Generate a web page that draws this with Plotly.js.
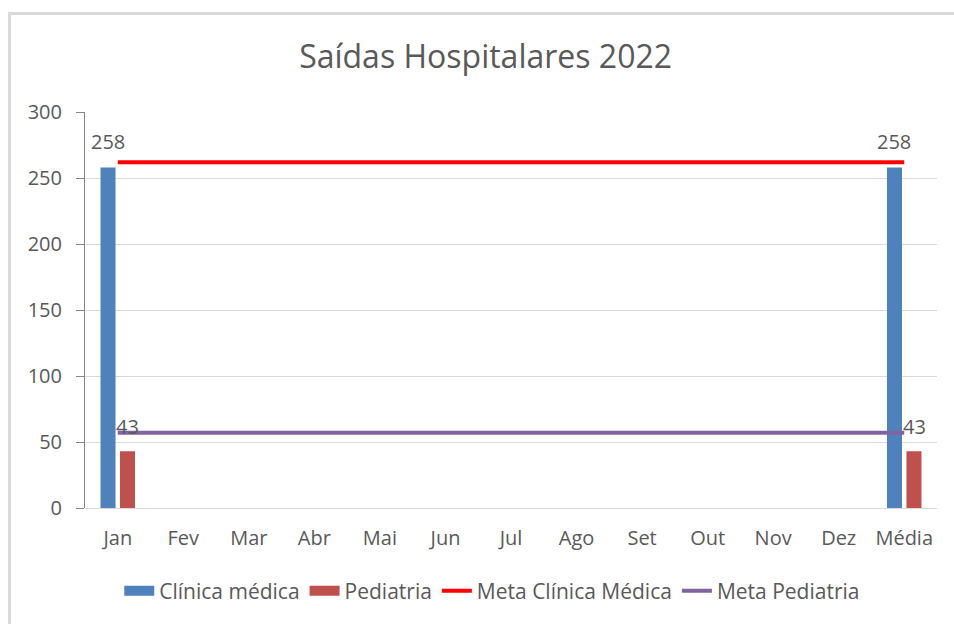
<!DOCTYPE html>
<html>
<head>
<meta charset="utf-8">
<script src="https://cdn.plot.ly/plotly-3.0.1.min.js"></script>
<style>
  html, body { margin: 0; padding: 0; background: #ffffff; }
  #wrap { position: relative; width: 954px; height: 624px; overflow: hidden; }
  #frame { position: absolute; left: 8px; top: 12px; right: -10px; bottom: -10px;
           border-left: 3px solid #d9d9d9; border-top: 3px solid #d9d9d9; pointer-events: none; z-index: 2; }
  #chart { position: absolute; left: 0; top: 0; width: 954px; height: 624px; }
</style>
</head>
<body>
<div id="wrap">
  <div id="chart"></div>
  <div id="frame"></div>
</div>
<script>
const months = ["Jan", "Fev", "Mar", "Abr", "Mai", "Jun", "Jul", "Ago", "Set", "Out", "Nov", "Dez", "Média"];
const clinicaMedica = [258, null, null, null, null, null, null, null, null, null, null, null, 258];
const pediatria = [43, null, null, null, null, null, null, null, null, null, null, null, 43];
const metaClinicaMedica = [262, 262, 262, 262, 262, 262, 262, 262, 262, 262, 262, 262, 262];
const metaPediatria = [57, 57, 57, 57, 57, 57, 57, 57, 57, 57, 57, 57, 57];
const yTicks = [0, 50, 100, 150, 200, 250, 300];

const FONT = "Open Sans, Noto Sans, sans-serif";
const TXT = "#595959";
const C_BLUE = "#4f81bd", C_RED = "#c0504d", C_LRED = "#ff0000", C_PURPLE = "#8064a2";

const traces = [
  { type: "bar", x: months, y: clinicaMedica, name: "Clínica médica", marker: { color: C_BLUE }, showlegend: false, hoverinfo: "x+y" },
  { type: "bar", x: months, y: pediatria, name: "Pediatria", marker: { color: C_RED }, showlegend: false, hoverinfo: "x+y" },
  { type: "scatter", mode: "lines", x: months, y: metaClinicaMedica, name: "Meta Clínica Médica", line: { color: C_LRED, width: 4 }, showlegend: false },
  { type: "scatter", mode: "lines", x: months, y: metaPediatria, name: "Meta Pediatria", line: { color: C_PURPLE, width: 4 }, showlegend: false },
  // legend entries (Excel-style wide swatches)
  { type: "scatter", mode: "lines", x: [null], y: [null], name: "Clínica médica", line: { color: C_BLUE, width: 12 }, hoverinfo: "skip" },
  { type: "scatter", mode: "lines", x: [null], y: [null], name: "Pediatria", line: { color: C_RED, width: 12 }, hoverinfo: "skip" },
  { type: "scatter", mode: "lines", x: [null], y: [null], name: "Meta Clínica Médica", line: { color: C_LRED, width: 4 }, hoverinfo: "skip" },
  { type: "scatter", mode: "lines", x: [null], y: [null], name: "Meta Pediatria", line: { color: C_PURPLE, width: 4 }, hoverinfo: "skip" }
];

const annotations = [];
months.forEach((m, i) => {
  if (clinicaMedica[i] != null) {
    annotations.push({ x: m, y: clinicaMedica[i], xref: "x", yref: "y", text: String(clinicaMedica[i]),
      showarrow: false, xshift: -10, yshift: 26, yanchor: "middle", xanchor: "center",
      font: { family: FONT, size: 20, color: TXT } });
  }
  if (pediatria[i] != null) {
    annotations.push({ x: m, y: pediatria[i], xref: "x", yref: "y", text: String(pediatria[i]),
      showarrow: false, xshift: 10, yshift: 25, yanchor: "middle", xanchor: "center",
      font: { family: FONT, size: 20, color: TXT } });
  }
});

const layout = {
  width: 954, height: 624,
  paper_bgcolor: "rgba(0,0,0,0)", plot_bgcolor: "rgba(0,0,0,0)",
  margin: { l: 85, r: 17, t: 112, b: 116, pad: 0 },
  font: { family: FONT, color: TXT, size: 20 },
  title: { text: "Saídas Hospitalares 2022", font: { family: FONT, size: 32, color: TXT },
           xref: "container", x: 0.509, xanchor: "center", yref: "container", y: 1 - 57 / 624, yanchor: "middle" },
  barmode: "group", bargap: 0.405, bargroupgap: 0.23,
  xaxis: { type: "category", categoryorder: "array", categoryarray: months,
           showgrid: false, zeroline: false, showline: false, ticks: "",
           tickfont: { family: FONT, size: 20, color: TXT }, ticklabelstandoff: 16, fixedrange: true },
  yaxis: { range: [0, 300], tickvals: yTicks, showgrid: true, gridcolor: "#d9d9d9", gridwidth: 1,
           zeroline: true, zerolinecolor: "#d9d9d9", zerolinewidth: 1,
           showline: true, linecolor: "#868686", linewidth: 1,
           ticks: "outside", ticklen: 8, tickcolor: "#868686", tickwidth: 1,
           tickfont: { family: FONT, size: 20, color: TXT }, ticklabelstandoff: 10, fixedrange: true },
  legend: { orientation: "h", xref: "container", x: 0.516, xanchor: "center",
            yref: "container", y: 1 - 591 / 624, yanchor: "middle",
            font: { family: FONT, size: 21, color: TXT }, traceorder: "normal", itemclick: false },
  annotations: annotations,
  showlegend: true
};

Plotly.newPlot("chart", traces, layout, { displayModeBar: false, staticPlot: true });
</script>
</body>
</html>
